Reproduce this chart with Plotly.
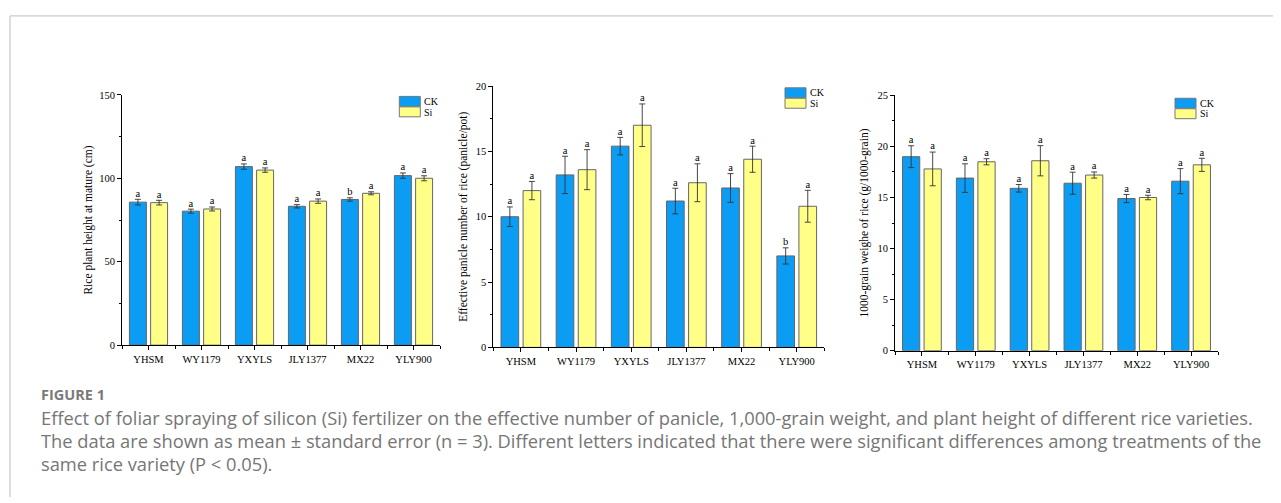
import numpy as np
import plotly.graph_objects as go

# ---------------- data ----------------
varieties = ["YHSM", "WY1179", "YXYLS", "JLY1377", "MX22", "YLY900"]
treatments = ["CK", "Si"]

height_ck = [85.7, 80.3, 107.0, 83.2, 87.3, 101.6]
height_ck_err = [1.7, 1.2, 1.6, 1.0, 1.0, 1.6]
height_si = [85.4, 81.6, 104.9, 86.3, 91.0, 100.0]
height_si_err = [1.4, 1.2, 1.3, 1.3, 0.9, 1.5]
height_ck_sig = ["a", "a", "a", "a", "b", "a"]
height_si_sig = ["a", "a", "a", "a", "a", "a"]

panicle_ck = [10.0, 13.2, 15.4, 11.2, 12.2, 7.0]
panicle_ck_err = [0.75, 1.43, 0.67, 0.98, 1.1, 0.62]
panicle_si = [12.0, 13.6, 17.0, 12.6, 14.4, 10.8]
panicle_si_err = [0.7, 1.53, 1.63, 1.45, 1.0, 1.22]
panicle_ck_sig = ["a", "a", "a", "a", "a", "b"]
panicle_si_sig = ["a", "a", "a", "a", "a", "a"]

grain_ck = [19.0, 16.9, 15.9, 16.4, 14.9, 16.6]
grain_ck_err = [1.07, 1.4, 0.37, 1.08, 0.4, 1.23]
grain_si = [17.8, 18.5, 18.6, 17.2, 15.0, 18.2]
grain_si_err = [1.65, 0.3, 1.48, 0.3, 0.22, 0.64]
grain_ck_sig = ["a", "a", "a", "a", "a", "a"]
grain_si_sig = ["a", "a", "a", "a", "a", "a"]

y_titles = ["Rice plant height at mature (cm)",
            "Effective panicle number of rice (panicle/pot)",
            "1000-grain weighe of rice (g/1000-grain)"]
y_max = [150, 20, 25]
y_dtick = [50, 5, 5]

caption_head = "FIGURE 1"
caption_lines = [
    "Effect of foliar spraying of silicon (Si) fertilizer on the effective number of panicle, 1,000-grain weight, and plant height of different rice varieties.",
    "The data are shown as mean \u00b1 standard error (n = 3). Different letters indicated that there were significant differences among treatments of the",
    "same rice variety (P < 0.05).",
]

# ---------------- styling / layout helpers ----------------
PAGE_W, PAGE_H = 1281, 503
BODY = 8                      # default page margin around the plot div
W, H = PAGE_W - BODY, PAGE_H - BODY
SERIF = "Liberation Serif, Times New Roman, serif"
SANS = "Open Sans, Noto Sans, sans-serif"
CK_COLOR = "#0B9CF4"
SI_COLOR = "#FFFF88"
BAR_W = 0.32
OFFSETS = {"CK": -0.36, "Si": 0.04}


def fx(p):
    """page pixel x -> paper fraction"""
    return (p - BODY) / W


def fy(p):
    """page pixel y -> paper fraction"""
    return 1 - (p - BODY) / H


# panel boxes in page pixels: (left, right, top, bottom)
boxes = [(122, 440, 91.7, 347.7), (493.3, 824.3, 82.7, 350.0), (895, 1218, 92.3, 353.3)]
title_standoff = [4, 5, 6]
legend_pos = [(399.3, 93.3), (785, 84.5), (1175, 95.2)]  # left, top of first swatch

panels = [
    (height_ck, height_ck_err, height_ck_sig, height_si, height_si_err, height_si_sig),
    (panicle_ck, panicle_ck_err, panicle_ck_sig, panicle_si, panicle_si_err, panicle_si_sig),
    (grain_ck, grain_ck_err, grain_ck_sig, grain_si, grain_si_err, grain_si_sig),
]

fig = go.Figure()
xpos = np.arange(len(varieties))
shapes = []
annotations = []

for i, (ck, ckerr, cksig, si, sierr, sisig) in enumerate(panels):
    sfx = "" if i == 0 else str(i + 1)
    xa, ya = "x" + sfx, "y" + sfx
    for name, vals, errs, sig, col in [("CK", ck, ckerr, cksig, CK_COLOR),
                                       ("Si", si, sierr, sisig, SI_COLOR)]:
        fig.add_trace(go.Bar(
            x=xpos, y=vals, name=name, xaxis=xa, yaxis=ya,
            width=BAR_W, offset=OFFSETS[name],
            marker=dict(color=col, line=dict(color="#666666", width=1)),
            error_y=dict(type="data", array=errs, color="#333333", thickness=0.9, width=3),
            showlegend=False,
        ))
        fig.add_trace(go.Scatter(
            x=xpos + OFFSETS[name] + BAR_W / 2,
            y=np.array(vals) + np.array(errs),
            mode="text", text=sig, textposition="top center",
            textfont=dict(family=SERIF, size=10.5, color="#000"),
            xaxis=xa, yaxis=ya, showlegend=False, hoverinfo="skip", cliponaxis=False,
        ))

    l, r, t, b = boxes[i]
    fig.update_layout(**{
        "xaxis" + sfx: dict(
            domain=[fx(l), fx(r)], anchor=ya, range=[-0.5, len(varieties) - 0.5],
            tickmode="array", tickvals=list(xpos), ticktext=varieties,
            ticks="outside", ticklen=4, tickwidth=1, tickcolor="#000",
            minor=dict(tickmode="linear", tick0=-0.5, dtick=1, ticks="outside",
                       ticklen=3, tickcolor="#000", showgrid=False),
            showline=True, linecolor="#000", linewidth=1, showgrid=False, zeroline=False,
            tickfont=dict(family=SERIF, size=10.5, color="#000"), fixedrange=True,
        ),
        "yaxis" + sfx: dict(
            domain=[fy(b), fy(t)], anchor=xa, range=[0, y_max[i]],
            tickmode="linear", tick0=0, dtick=y_dtick[i],
            ticks="outside", ticklen=4, tickwidth=1, tickcolor="#000",
            minor=dict(tickmode="linear", tick0=0, dtick=y_dtick[i] / 2, ticks="outside",
                       ticklen=2.5, tickcolor="#000", showgrid=False),
            showline=True, linecolor="#000", linewidth=1, showgrid=False, zeroline=False,
            tickfont=dict(family=SERIF, size=10.5, color="#000"),
            title=dict(text=y_titles[i], font=dict(family=SERIF, size=11.5, color="#000"),
                       standoff=title_standoff[i]),
            fixedrange=True,
        ),
    })

    # legend swatches
    lx, ly = legend_pos[i]
    for k, (name, col) in enumerate([("CK", CK_COLOR), ("Si", SI_COLOR)]):
        y0 = ly + k * 10.7
        shapes.append(dict(type="rect", xref="paper", yref="paper",
                           x0=fx(lx), x1=fx(lx + 21), y0=fy(y0 + 10.2), y1=fy(y0),
                           fillcolor=col, line=dict(color="#777777", width=1)))
        annotations.append(dict(xref="paper", yref="paper", x=fx(lx + 22.5), y=fy(y0 + 5.3),
                                xanchor="left", yanchor="middle", showarrow=False, text=name,
                                font=dict(family=SERIF, size=10, color="#000")))

# frame lines
shapes.append(dict(type="line", xref="paper", yref="paper", x0=fx(10), x1=1, y0=fy(11), y1=fy(11),
                   line=dict(color="#cccccc", width=1.3)))
shapes.append(dict(type="line", xref="paper", yref="paper", x0=fx(10), x1=fx(10), y0=0, y1=fy(11),
                   line=dict(color="#cccccc", width=1.3)))

# caption
annotations.append(dict(xref="paper", yref="paper", x=fx(39), y=fy(398), xanchor="left",
                         yanchor="middle", showarrow=False, text="<b>" + caption_head + "</b>",
                         font=dict(family=SANS, size=14.5, color="#7a7a7a")))
for k, line in enumerate(caption_lines):
    annotations.append(dict(xref="paper", yref="paper", x=fx(39), y=fy(422 + k * 23.6),
                            xanchor="left", yanchor="middle", showarrow=False, text=line,
                            font=dict(family=SANS, size=18.3, color="#767676")))

fig.update_layout(
    width=W, height=H, margin=dict(l=0, r=0, t=0, b=0),
    paper_bgcolor="white", plot_bgcolor="white",
    barmode="overlay", showlegend=False,
    shapes=shapes, annotations=annotations,
)

fig.write_html("out.html", config={"displayModeBar": False})
